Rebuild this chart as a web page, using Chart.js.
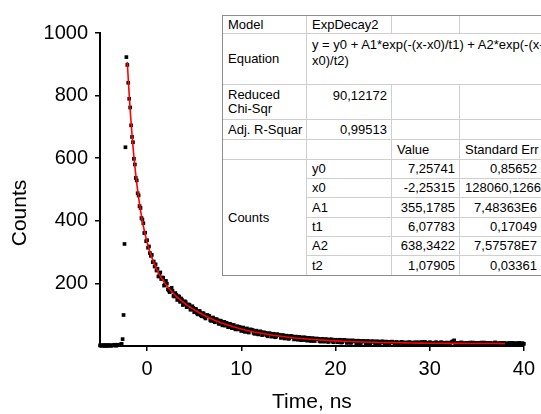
<!DOCTYPE html>
<html>
<head>
<meta charset="utf-8">
<script src="https://cdn.jsdelivr.net/npm/chart.js@4.4.1/dist/chart.umd.min.js"></script>
<style>
  html, body { margin:0; padding:0; background:#fff; overflow:hidden; }
  #wrap { position:relative; width:541px; height:414px; background:#fff; }
  #c { position:absolute; left:0; top:0; }
  #fit { position:absolute; left:222px; top:15px; width:318px; table-layout:fixed;
         border-collapse:separate; border-spacing:0; border:1px solid #8e8e8e; background:#fff;
         font-family:"Liberation Sans", Arial, sans-serif; font-size:13px; line-height:14px; color:#000; }
  #fit td { padding:0 4px 0 5px; border-right:1px solid #cfcfcf; border-bottom:1px solid #cfcfcf;
            vertical-align:middle; white-space:nowrap; overflow:visible; }
  #fit td.last { border-right:none; }
  #fit tr.end td, #fit td.end { border-bottom:none; }
  #fit td.v { text-align:right; }
  #fit td.top { vertical-align:top; padding-top:4px; }
  #fit td.eq { vertical-align:top; padding-top:3px; line-height:16px; }
</style>
</head>
<body>
<div id="wrap">
<canvas id="c" width="541" height="414"></canvas>
<table id="fit">
<colgroup><col style="width:84px"><col style="width:85px"><col style="width:68px"><col style="width:81px"></colgroup>
<tr style="height:18px"><td>Model</td><td>ExpDecay2</td><td></td><td class="last"></td></tr>
<tr style="height:51px"><td>Equation</td><td colspan="3" class="eq last">y = y0 + A1*exp(-(x-x0)/t1) + A2*exp(-(x-<br>x0)/t2)</td></tr>
<tr style="height:35px"><td>Reduced<br>Chi-Sqr</td><td class="v top">90,12172</td><td></td><td class="last"></td></tr>
<tr style="height:20px"><td>Adj. R-Squar</td><td class="v">0,99513</td><td></td><td class="last"></td></tr>
<tr style="height:20px"><td></td><td></td><td>Value</td><td class="last">Standard Err</td></tr>
<tr style="height:19px"><td rowspan="6" class="end">Counts</td><td>y0</td><td class="v">7,25741</td><td class="v last">0,85652</td></tr>
<tr style="height:19px"><td>x0</td><td class="v">-2,25315</td><td class="v last">128060,1266</td></tr>
<tr style="height:20px"><td>A1</td><td class="v">355,1785</td><td class="v last">7,48363E6</td></tr>
<tr style="height:19px"><td>t1</td><td class="v">6,07783</td><td class="v last">0,17049</td></tr>
<tr style="height:19px"><td>A2</td><td class="v">638,3422</td><td class="v last">7,57578E7</td></tr>
<tr style="height:19px" class="end"><td>t2</td><td class="v">1,07905</td><td class="v last">0,03361</td></tr>
</table>
</div>
<script>
const xTitle = 'Time, ns';
const yTitle = 'Counts';
const xTicks = [0, 10, 20, 30, 40];
const yTicks = [200, 400, 600, 800, 1000];

// measured channels (even tenths + rise)
const times = [
 -5.0,-4.8,-4.6,-4.4,-4.2,-4.0,-3.8,-3.6,-3.4,-3.2,-3.0,-2.8,
 -2.7,-2.6,-2.5,-2.4,-2.3,-2.2,
 -2.1,-2.0,-1.9,-1.8,-1.7,-1.6,-1.5,-1.4,-1.3,-1.2,
 -1.1,-1.0,-0.9,-0.8,-0.7,-0.6,-0.5,-0.4,-0.3,-0.2,
 -0.1,0.0,0.1,0.2,0.3,0.4,0.5,0.6,0.7,0.8,0.9,1.0,
 1.2,1.4,1.6,1.8,2.0,2.2,2.4,2.6,2.8,3.0,
 3.2,3.4,3.6,3.8,4.0,4.2,4.4,4.6,4.8,5.0,
 5.2,5.4,5.6,5.8,6.0,6.2,6.4,6.6,6.8,7.0,
 7.2,7.4,7.6,7.8,8.0,8.2,8.4,8.6,8.8,9.0,
 9.2,9.4,9.6,9.8,10.0,10.2,10.4,10.6,10.8,11.0,
 11.2,11.4,11.6,11.8,12.0,12.2,12.4,12.6,12.8,13.0,
 13.2,13.4,13.6,13.8,14.0,14.2,14.4,14.6,14.8,15.0,
 15.2,15.4,15.6,15.8,16.0,16.2,16.4,16.6,16.8,17.0,
 17.2,17.4,17.6,17.8,18.0,18.2,18.4,18.6,18.8,19.0,
 19.2,19.4,19.6,19.8,20.0,20.2,20.4,20.6,20.8,21.0,
 21.2,21.4,21.6,21.8,22.0,22.2,22.4,22.6,22.8,23.0,
 23.2,23.4,23.6,23.8,24.0,24.2,24.4,24.6,24.8,25.0,
 25.2,25.4,25.6,25.8,26.0,26.2,26.4,26.6,26.8,27.0,
 27.2,27.4,27.6,27.8,28.0,28.2,28.4,28.6,28.8,29.0,
 29.2,29.4,29.6,29.8,30.0,30.2,30.4,30.6,30.8,31.0,
 31.2,31.4,31.6,31.8,32.0,32.2,32.4,32.6,32.8,33.0,
 33.2,33.4,33.6,33.8,34.0,34.2,34.4,34.6,34.8,35.0,
 35.2,35.4,35.6,35.8,36.0,36.2,36.4,36.6,36.8,37.0,
 37.2,37.4,37.6,37.8,38.0,38.2,38.4,38.6,38.8,39.0,
 39.2,39.4,39.6,39.8,40.0
];
const counts = [
 2,1,3,2,0,3,1,2,4,2,3,5,
 7,22,99,326,635,923,
 898,841,790,762,705,668,651,598,580,537,
 529,488,481,447,441,409,404,392,361,362,
 335,338,314,318,297,288,291,268,270,254,261,241,
 222,235,219,193,208,181,172,186,160,169,
 147,158,152,131,143,124,133,116,127,108,
 118,101,111,95,104,88,99,96,80,91,
 76,85,71,81,66,77,74,60,71,57,
 67,53,63,61,48,59,45,56,43,53,
 51,39,49,37,47,35,44,42,31,41,
 30,39,28,38,36,26,35,24,33,23,
 32,31,21,30,20,29,19,28,27,17,
 26,16,25,16,24,23,14,23,14,22,
 13,21,21,12,20,12,20,11,19,19,
 10,18,10,18,17,9,17,9,16,16,
 8,16,8,15,15,8,15,7,14,15,
 7,14,7,13,14,12,10,8,11,13,
 9,11,8,12,10,7,11,12,8,10,
 13,9,7,10,12,8,9,11,7,10,
 12,8,9,11,7,10,14,18,9,7,
 10,11,6,9,10,7,8,11,6,9,
 10,7,8,11,6,9,10,7,8,11,
 6,9,8,10,7,9,6,8,10,7,
 9,8,6,9,7
];

// measured channels (odd tenths)
const times2 = [
 -4.9,-4.7,-4.5,-4.3,-4.1,-3.9,-3.7,-3.5,-3.3,-3.1,-2.9,
 1.1,1.3,1.5,1.7,1.9,2.1,2.3,2.5,2.7,2.9,
 3.1,3.3,3.5,3.7,3.9,4.1,4.3,4.5,4.7,4.9,
 5.1,5.3,5.5,5.7,5.9,6.1,6.3,6.5,6.7,6.9,
 7.1,7.3,7.5,7.7,7.9,8.1,8.3,8.5,8.7,8.9,
 9.1,9.3,9.5,9.7,9.9,10.1,10.3,10.5,10.7,10.9,
 11.1,11.3,11.5,11.7,11.9,12.1,12.3,12.5,12.7,12.9,
 13.1,13.3,13.5,13.7,13.9,14.1,14.3,14.5,14.7,14.9,
 15.1,15.3,15.5,15.7,15.9,16.1,16.3,16.5,16.7,16.9,
 17.1,17.3,17.5,17.7,17.9,18.1,18.3,18.5,18.7,18.9,
 19.1,19.3,19.5,19.7,19.9,20.1,20.3,20.5,20.7,20.9,
 21.1,21.3,21.5,21.7,21.9,22.1,22.3,22.5,22.7,22.9,
 23.1,23.3,23.5,23.7,23.9,24.1,24.3,24.5,24.7,24.9,
 25.1,25.3,25.5,25.7,25.9,26.1,26.3,26.5,26.7,26.9,
 27.1,27.3,27.5,27.7,27.9,28.1,28.3,28.5,28.7,28.9,
 29.1,29.3,29.5,29.7,29.9,30.1,30.3,30.5,30.7,30.9,
 31.1,31.3,31.5,31.7,31.9,32.1,32.3,32.5,32.7,32.9,
 33.1,33.3,33.5,33.7,33.9,34.1,34.3,34.5,34.7,34.9,
 35.1,35.3,35.5,35.7,35.9,36.1,36.3,36.5,36.7,36.9,
 37.1,37.3,37.5,37.7,37.9,38.1,38.3,38.5,38.7,38.9,
 39.1,39.3,39.5,39.7,39.9
];
const counts2 = [
 1,2,0,3,2,1,2,3,1,4,3,
 247,226,214,218,196,199,177,182,176,158,
 163,159,141,148,134,140,126,131,117,122,
 118,104,112,98,105,92,98,95,83,90,
 79,86,82,71,78,76,65,72,62,68,
 66,56,62,53,59,57,48,55,46,52,
 50,42,48,39,45,44,36,42,34,40,
 39,31,37,30,35,34,27,33,26,31,
 24,31,29,22,28,27,20,26,19,25,
 24,18,24,17,23,22,16,22,15,21,
 20,14,20,14,19,18,13,19,12,18,
 17,11,17,11,16,16,10,16,10,15,
 15,9,15,9,14,14,8,14,8,13,
 13,8,13,8,12,11,8,13,9,10,
 12,7,11,9,12,8,11,10,7,12,
 9,10,13,8,9,11,7,10,12,8,
 9,11,6,10,8,9,12,15,8,10,
 7,11,9,6,10,8,11,7,9,10,
 6,9,11,7,8,10,7,9,6,11,
 8,7,10,6,9,8,6,10,7,9,
 5,8,10,6,8
];

const fitTimes = [
 -2.1,-2.0,-1.9,-1.8,-1.7,-1.6,-1.5,-1.4,-1.3,-1.2,-1.1,-1.0,-0.9,-0.8,-0.7,-0.6,
 -0.5,-0.4,-0.3,-0.2,-0.1,0.0,0.1,0.2,0.3,0.4,0.5,0.6,0.7,0.8,0.9,1.0,
 1.2,1.4,1.6,1.8,2.0,2.2,2.4,2.6,2.8,3.0,3.2,3.4,3.6,3.8,4.0,4.2,4.4,4.6,4.8,5.0,
 6,7,8,9,10,11,12,13,14,15,16,17,18,19,20,21,22,23,24,25,26,27,28,29,30,31,32,33,34,35,36,37,38
];
const fitCounts = [
 907.6,852.9,802.6,756.4,713.9,674.8,638.7,605.5,574.8,546.5,520.3,496.1,473.7,453.0,433.7,415.8,
 399.2,383.7,369.3,355.9,343.3,331.5,320.5,310.2,300.5,291.4,282.8,274.7,267.1,259.9,253.0,246.5,
 234.5,223.6,213.6,204.5,196.1,188.3,181.0,174.2,167.8,161.8,156.2,150.8,145.7,140.8,136.2,131.7,127.5,123.4,119.5,115.7,
 98.9,84.9,73.0,63.0,54.6,47.4,41.3,36.1,31.7,28.0,24.9,22.2,19.9,18.0,16.4,15.0,13.8,12.8,12.0,11.3,10.7,10.2,9.7,9.3,9.0,8.8,8.5,8.3,8.2,8.0,7.9,7.8,7.7
];

const FONT = '"Liberation Sans", Arial, sans-serif';

const axisTitles = {
  id: 'axisTitles',
  afterDraw(chart) {
    const { ctx, chartArea } = chart;
    ctx.save();
    ctx.fillStyle = '#000';
    ctx.font = '21px ' + FONT;
    ctx.textAlign = 'center';
    ctx.textBaseline = 'middle';
    ctx.fillText(xTitle, (chartArea.left + chartArea.right) / 2, 402);
    ctx.translate(20, 213);
    ctx.rotate(-Math.PI / 2);
    ctx.fillText(yTitle, 0, 0);
    ctx.restore();
  }
};

const points = times.map((t, i) => ({ x: t, y: counts[i] }))
  .concat(times2.map((t, i) => ({ x: t, y: counts2[i] })));

new Chart(document.getElementById('c'), {
  type: 'scatter',
  data: {
    datasets: [
      {
        label: 'Counts',
        data: points,
        pointStyle: 'rect',
        pointRadius: 2.6,
        backgroundColor: '#000',
        borderColor: '#000',
        borderWidth: 0,
        clip: false,
        order: 1
      },
      {
        label: 'Fit',
        data: fitTimes.map((t, i) => ({ x: t, y: fitCounts[i] })),
        showLine: true,
        borderColor: '#ff0000',
        borderWidth: 1.6,
        pointRadius: 0,
        fill: false,
        cubicInterpolationMode: 'monotone',
        order: 0
      }
    ]
  },
  options: {
    responsive: false,
    animation: false,
    devicePixelRatio: 1,
    layout: { padding: { top: 33, right: 14, left: 0, bottom: 0 } },
    plugins: { legend: { display: false }, tooltip: { enabled: false } },
    scales: {
      x: {
        type: 'linear', min: -5, max: 40,
        afterBuildTicks: s => { s.ticks = xTicks.map(v => ({ value: v })); },
        afterFit: s => { s.height = 68; },
        grid: { display: true, drawOnChartArea: false, drawTicks: true, tickLength: 5, color: '#000', lineWidth: 1.5 },
        border: { display: true, color: '#000', width: 2 },
        ticks: { color: '#000', font: { family: FONT, size: 20 }, padding: 6, maxRotation: 0, autoSkip: false,
                 callback: v => String(v) }
      },
      y: {
        type: 'linear', min: 0, max: 1000,
        afterBuildTicks: s => { s.ticks = yTicks.map(v => ({ value: v })); },
        afterFit: s => { s.width = 100; },
        grid: { display: true, drawOnChartArea: false, drawTicks: true, tickLength: 5, color: '#000', lineWidth: 1.5 },
        border: { display: true, color: '#000', width: 2 },
        ticks: { color: '#000', font: { family: FONT, size: 20 }, padding: 7, autoSkip: false,
                 callback: v => String(v) }
      }
    }
  },
  plugins: [axisTitles]
});
</script>
</body>
</html>
